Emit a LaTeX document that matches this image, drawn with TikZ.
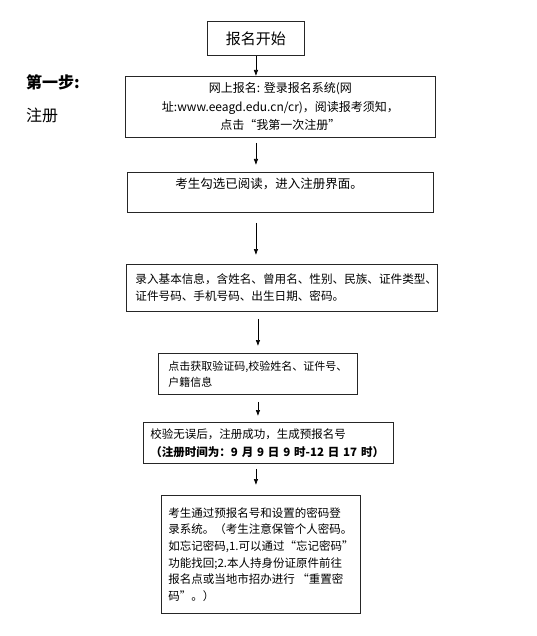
\documentclass[tikz,border=0pt]{standalone}
\usepackage{fontspec}
\setmainfont{Noto Sans CJK SC}
\usetikzlibrary{arrows.meta}

\tikzset{
  box/.style={draw=black!85, line width=0.9pt, rectangle, anchor=north west,
    inner ysep=0pt, font=\fontsize{12}{18}\selectfont},
  flow/.style={-{Latex[length=6pt,width=4.5pt]}, line width=0.6pt},
  steplabel/.style={anchor=west, inner sep=0pt, font=\fontsize{16}{16}\selectfont}
}

\begin{document}
\begin{tikzpicture}[x=1pt,y=-1pt]
	\useasboundingbox (0,0) rectangle (537,636);
	% left column
	\node[steplabel,font=\fontsize{16}{16}\selectfont\bfseries] (step) at (26,82) {第一步:};
	\node[steplabel] (stepname) at (26,115) {注册};
	% flow boxes
	\node[box,minimum width=97pt,minimum height=34pt,font=\fontsize{15}{18}\selectfont]
	     (start) at (207,21) {\raisebox{-4pt}{报名开始}};
	\node[box,minimum width=310pt,minimum height=61pt,align=center,font=\fontsize{12}{18.5}\selectfont]
	     (online) at (125,76) {网上报名: 登录报名系统(网\\址:www.eeagd.edu.cn/cr)，阅读报考须知，\\点击“我第一次注册”};
	\node[box,minimum width=306pt,minimum height=40pt,inner xsep=48pt,text width=210pt,align=left,font=\fontsize{12.5}{18}\selectfont]
	     (agree) at (127,172) {考生勾选已阅读，进入注册界面。\\~};
	\node[box,minimum width=311pt,minimum height=47pt,inner xsep=9pt,text width=293pt,align=left,font=\fontsize{11.6}{17}\selectfont]
	     (info) at (126,264) {录入基本信息，含姓名、曾用名、性别、民族、证件类型、\\证件号码、手机号码、出生日期、密码。};
	\node[box,minimum width=199pt,minimum height=41pt,align=left,font=\fontsize{11}{16}\selectfont]
	     (verify) at (158,353) {点击获取验证码,校验姓名、证件号、\\户籍信息};
	\node[box,minimum width=250pt,minimum height=41pt,inner xsep=7pt,text width=236pt,align=left,font=\fontsize{11.5}{18}\selectfont]
	     (result) at (143,422) {校验无误后，注册成功，生成预报名号\\{\bfseries（注册时间为：9~月~9~日~9~时-12~日~17~时）}};
	\node[box,minimum width=199pt,minimum height=118pt,align=left,font=\fontsize{11.5}{16.6}\selectfont]
	     (login) at (161,495) {考生通过预报名号和设置的密码登\\录系统。（考生注意保管个人密码。\\如忘记密码,1.可以通过“忘记密码”\\功能找回;2.本人持身份证原件前往\\报名点或当地市招办进行~“重置密\\码”。）};
	% arrows
	\draw[flow] (start.south) -- (start.south |- online.north);
	\draw[flow,shorten <=5pt,shorten >=7pt] (start.south |- online.south) -- (start.south |- agree.north);
	\draw[flow,shorten <=10pt,shorten >=9pt] (start.south |- agree.south) -- (start.south |- info.north);
	\draw[flow,shorten <=7pt,shorten >=7pt] (verify.north |- info.south) -- (verify.north);
	\draw[flow,shorten <=7pt,shorten >=6pt] (verify.south) -- (verify.south |- result.north);
	\draw[flow,shorten <=5pt,shorten >=10pt] (start.south |- result.south) -- (start.south |- login.north);
\end{tikzpicture}
\end{document}
